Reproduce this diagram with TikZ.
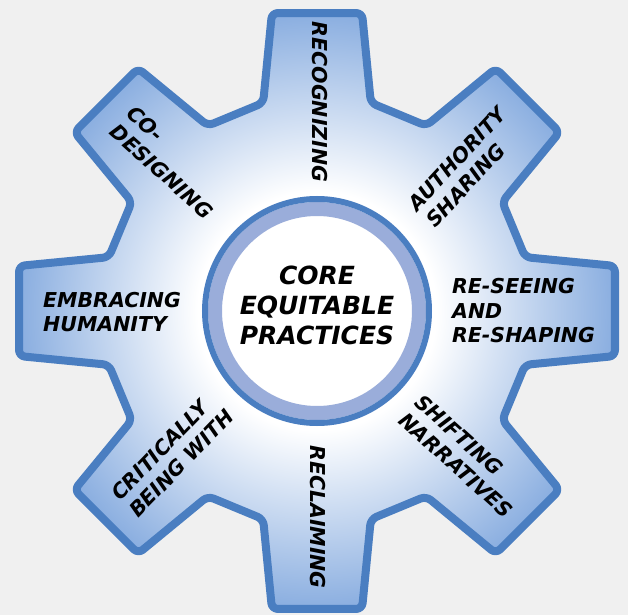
\documentclass[tikz,border=0pt]{standalone}
\usepackage{fontspec}
\setmainfont{DejaVu Sans}
\definecolor{bgc}{RGB}{240,240,240}
\definecolor{gearline}{RGB}{74,126,193}
\definecolor{gearblue}{RGB}{138,174,224}
\definecolor{ringlight}{RGB}{154,173,218}
\pgfdeclareradialshading{gearshade}{\pgfpointorigin}{color(0bp)=(white); color(10bp)=(white); color(25bp)=(gearblue); color(50bp)=(gearblue)}

\begin{document}
\begin{tikzpicture}[x=1pt, y=1pt,
  gear/.style={draw=gearline, line width=8pt, line join=round, rounded corners=6pt, shade, shading=gearshade},
  core/.style={circle, fill=white, draw=ringlight, line width=14pt, minimum size=204pt, inner sep=0pt, text depth=12pt, align=center, font=\bfseries\itshape\fontsize{25}{30}\selectfont},
  lbl/.style={inner sep=0pt, align=left, font=\bfseries\itshape\fontsize{20.5}{24.5}\selectfont}]

    \fill[bgc] (-317,-304) rectangle (311,311);
    \useasboundingbox (-317,-304) rectangle (311,311);

    % gear outline with eight teeth
    \draw[gear] (112.5:212.9) \foreach \a in {90,45,...,-225} {
      -- (\a+14.5:215) -- (\a+8.6:301.4) -- (\a-8.6:301.4) -- (\a-14.5:215) } -- cycle;

    \node[core] (core) at (0,0) {CORE\\EQUITABLE\\PRACTICES};
    \draw[gearline, line width=6pt] (core.center) circle (112);

    \node[lbl, rotate=-90] (recog) at (3,209) {RECOGNIZING};
    \node[lbl, rotate=47] (auth) at (149,144) {AUTHORITY\\SHARING};
    \node[lbl, anchor=west] (reseeing) at (135,0) {RE-SEEING\\AND\\RE-SHAPING};
    \node[lbl, rotate=-42] (shift) at (147,-145) {SHIFTING\\NARRATIVES};
    \node[lbl, rotate=-90] (reclaim) at (1,-206) {RECLAIMING};
    \node[lbl, rotate=46] (critical) at (-144.5,-144) {CRITICALLY\\BEING WITH};
    \node[lbl, anchor=west] (embrace) at (-274,-1) {EMBRACING\\HUMANITY};
    \node[lbl, rotate=-42] (codesign) at (-147,148.5) {CO-\\DESIGNING};

  \end{tikzpicture}
\end{document}
